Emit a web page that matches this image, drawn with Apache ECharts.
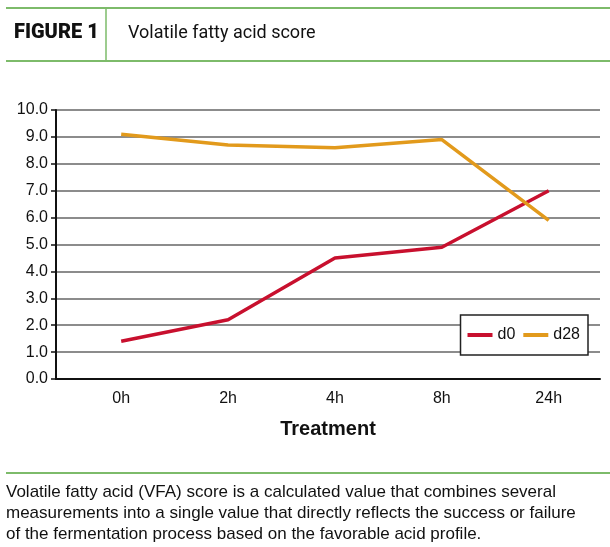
<!DOCTYPE html>
<html>
<head>
<meta charset="utf-8">
<script src="https://cdn.jsdelivr.net/npm/echarts@6/dist/echarts.min.js"></script>
<style>html,body{margin:0;padding:0;background:#fff;}#c{width:610px;height:547px;}</style>
</head>
<body>
<div id="c"></div>
<script>
var categories = ['0h', '2h', '4h', '8h', '24h'];
var d0 = [1.4, 2.2, 4.5, 4.9, 7.0];
var d28 = [9.1, 8.7, 8.6, 8.9, 5.9];
var yTicks = [0, 1, 2, 3, 4, 5, 6, 7, 8, 9, 10];

var chart = echarts.init(document.getElementById('c'), null, {renderer: 'canvas'});
var font = '"Liberation Sans", Arial, sans-serif';
function pts(arr) { return arr.map(function (v, i) { return [i, v]; }); }
var green = '#7dbb6a';
chart.setOption({
  animation: false,
  backgroundColor: '#fff',
  grid: {left: 56, right: 10, top: 110, bottom: 168},
  graphic: [
    {type: 'line', shape: {x1: 6, y1: 8, x2: 610, y2: 8}, style: {stroke: green, lineWidth: 2}},
    {type: 'line', shape: {x1: 6, y1: 61, x2: 610, y2: 61}, style: {stroke: green, lineWidth: 2}},
    {type: 'line', shape: {x1: 106, y1: 8, x2: 106, y2: 61}, style: {stroke: green, lineWidth: 1.5}},
    {type: 'text', left: 14, top: 23, style: {text: 'FIGURE 1', font: '900 20px Roboto, sans-serif', fill: '#111'}},
    {type: 'text', left: 128, top: 24, style: {text: 'Volatile fatty acid score', font: '18px Roboto, sans-serif', fill: '#111'}},
    {type: 'line', shape: {x1: 6, y1: 473, x2: 610, y2: 473}, style: {stroke: green, lineWidth: 2}},
    {type: 'text', left: 6, top: 482, style: {
      text: 'Volatile fatty acid (VFA) score is a calculated value that combines several\nmeasurements into a single value that directly reflects the success or failure\nof the fermentation process based on the favorable acid profile.',
      font: '17px "Liberation Sans", Arial, sans-serif', fill: '#111', lineHeight: 21}}
  ],
  legend: {
    data: ['d0', 'd28'],
    right: 22, top: 315,
    orient: 'horizontal',
    backgroundColor: '#fff',
    borderColor: '#222', borderWidth: 1.5,
    padding: [12, 8, 12, 7],
    itemWidth: 25, itemHeight: 4, itemGap: 8,
    icon: 'rect',
    textStyle: {fontFamily: font, fontSize: 16, color: '#111'}
  },
  xAxis: {
    type: 'value',
    min: -0.61, max: 4.48,
    name: 'Treatment',
    nameLocation: 'middle',
    nameGap: 40,
    nameTextStyle: {fontFamily: font, fontSize: 20, fontWeight: 'bold', color: '#111'},
    axisLine: {show: true, onZero: false, lineStyle: {color: '#111', width: 2}},
    axisTick: {show: false},
    splitLine: {show: false},
    axisLabel: {
      customValues: [0, 1, 2, 3, 4],
      formatter: function (v) { return categories[Math.round(v)]; },
      fontFamily: font, fontSize: 16, color: '#111', margin: 12
    }
  },
  yAxis: {
    type: 'value',
    min: yTicks[0], max: yTicks[yTicks.length - 1], interval: 1,
    axisLine: {show: true, onZero: false, lineStyle: {color: '#111', width: 2}},
    axisTick: {show: true, length: 5, lineStyle: {color: '#111', width: 1.5}},
    axisLabel: {formatter: function (v) { return v.toFixed(1); }, fontFamily: font, fontSize: 16, color: '#111', margin: 8},
    splitLine: {show: true, lineStyle: {color: '#666', width: 1.5}}
  },
  series: [
    {name: 'd0', type: 'line', data: pts(d0), symbol: 'none', lineStyle: {color: '#c8102e', width: 3.5}, itemStyle: {color: '#c8102e'}},
    {name: 'd28', type: 'line', data: pts(d28), symbol: 'none', lineStyle: {color: '#e29a1c', width: 3.5}, itemStyle: {color: '#e29a1c'}}
  ]
});
</script>
</body>
</html>
